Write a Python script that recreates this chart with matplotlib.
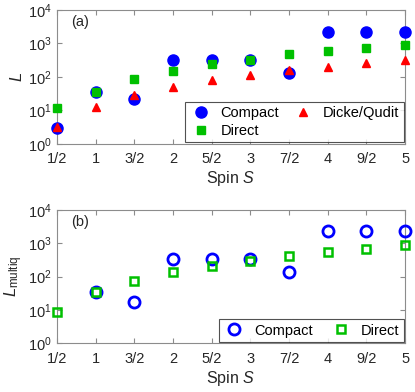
import numpy as np
import matplotlib
matplotlib.use("Agg")
import matplotlib.pyplot as plt
from matplotlib.ticker import LogLocator, NullFormatter

spin_labels = ["1/2", "1", "3/2", "2", "5/2", "3", "7/2", "4", "9/2", "5"]
spin = [0.5, 1, 1.5, 2, 2.5, 3, 3.5, 4, 4.5, 5]

# panel (a)
compact_a = [3, 36, 22, 325, 325, 325, 134, 2250, 2250, 2250]
direct_a = [12, 35, 89, 148, 240, 320, 465, 590, 750, 920]
dicke_a = [3.2, 12.4, 28, 50, 80, 112, 158, 203, 260, 310]

# panel (b)
spin_b_compact = [1, 1.5, 2, 2.5, 3, 3.5, 4, 4.5, 5]
compact_b = [34, 17, 330, 330, 330, 133, 2300, 2300, 2300]
direct_b = [8.5, 34, 75, 133, 205, 295, 410, 540, 680, 850]

plt.rcParams['font.family'] = ['Liberation Sans', 'DejaVu Sans']
plt.rcParams['mathtext.fontset'] = 'custom'
plt.rcParams['mathtext.it'] = 'Liberation Sans:italic'
plt.rcParams['mathtext.rm'] = 'Liberation Sans'

BLUE = '#0000ff'
GREEN = '#00c000'
RED = '#ff0000'
FRAME = '#8c8c8c'

fig = plt.figure(figsize=(4.15, 3.92), dpi=100)
ax1 = fig.add_axes([0.137, 0.633, 0.839, 0.342])
ax2 = fig.add_axes([0.137, 0.124, 0.839, 0.341])


def style(ax):
    ax.set_yscale('log')
    ax.set_ylim(1, 1e4)
    ax.set_xlim(0.5, 5)
    ax.set_xticks(spin)
    ax.set_xticklabels(spin_labels)
    ax.set_yticks([1, 10, 100, 1000, 10000])
    ax.yaxis.set_minor_locator(LogLocator(base=10, subs=np.arange(2, 10)))
    ax.yaxis.set_minor_formatter(NullFormatter())
    ax.tick_params(which='both', direction='in', top=True, right=True,
                   color=FRAME, labelsize=10.5, labelcolor='#262626')
    ax.tick_params(which='major', length=3.5)
    ax.tick_params(which='minor', length=2)
    ax.tick_params(axis='x', which='major', pad=6)
    ax.tick_params(axis='x', which='minor', bottom=False, top=False)
    ax.tick_params(axis='y', which='minor', left=False)
    for s in ax.spines.values():
        s.set_color(FRAME)
        s.set_linewidth(0.8)
        s.set_zorder(0)
    ax.set_xlabel('Spin $S$', fontsize=11.5, color='#262626', labelpad=2)


style(ax1)
ax1.plot(spin, compact_a, 'o', color=BLUE, ms=8, label='Compact', clip_on=False, zorder=3)
ax1.plot(spin, direct_a, 's', color=GREEN, ms=5.5, label='Direct', clip_on=False, zorder=4)
ax1.plot(spin, dicke_a, '^', color=RED, ms=6, label='Dicke/Qudit', clip_on=False, zorder=5)
ax1.set_ylabel('$L$', fontsize=12, color='#262626', labelpad=2)
ax1.text(0.04, 0.88, '(a)', transform=ax1.transAxes, fontsize=10.5, color='#262626')
leg1 = ax1.legend(ncol=2, loc='lower right', fontsize=10.5, frameon=True,
                  fancybox=False, edgecolor='#262626', borderaxespad=0.1,
                  handlelength=1.5, handletextpad=0.6, columnspacing=0.9,
                  labelspacing=0.25, borderpad=0.3)
leg1.get_frame().set_linewidth(0.8)

style(ax2)
ax2.plot(spin_b_compact, compact_b, 'o', mfc='none', mec=BLUE, mew=2, ms=8,
         label='Compact', clip_on=False, zorder=3)
ax2.plot(spin, direct_b, 's', mfc='none', mec=GREEN, mew=1.8, ms=5.5,
         label='Direct', clip_on=False, zorder=4)
ax2.set_ylabel('$L_{\\rm multiq}$', fontsize=12, color='#262626', labelpad=2)
ax2.text(0.04, 0.88, '(b)', transform=ax2.transAxes, fontsize=10.5, color='#262626')
leg2 = ax2.legend(ncol=2, loc='lower right', fontsize=10.5, frameon=True,
                  fancybox=False, edgecolor='#262626', borderaxespad=0.1,
                  handlelength=1.5, handletextpad=0.6, columnspacing=1.2,
                  borderpad=0.3)
leg2.get_frame().set_linewidth(0.8)

fig.savefig('out.png', dpi=100)
